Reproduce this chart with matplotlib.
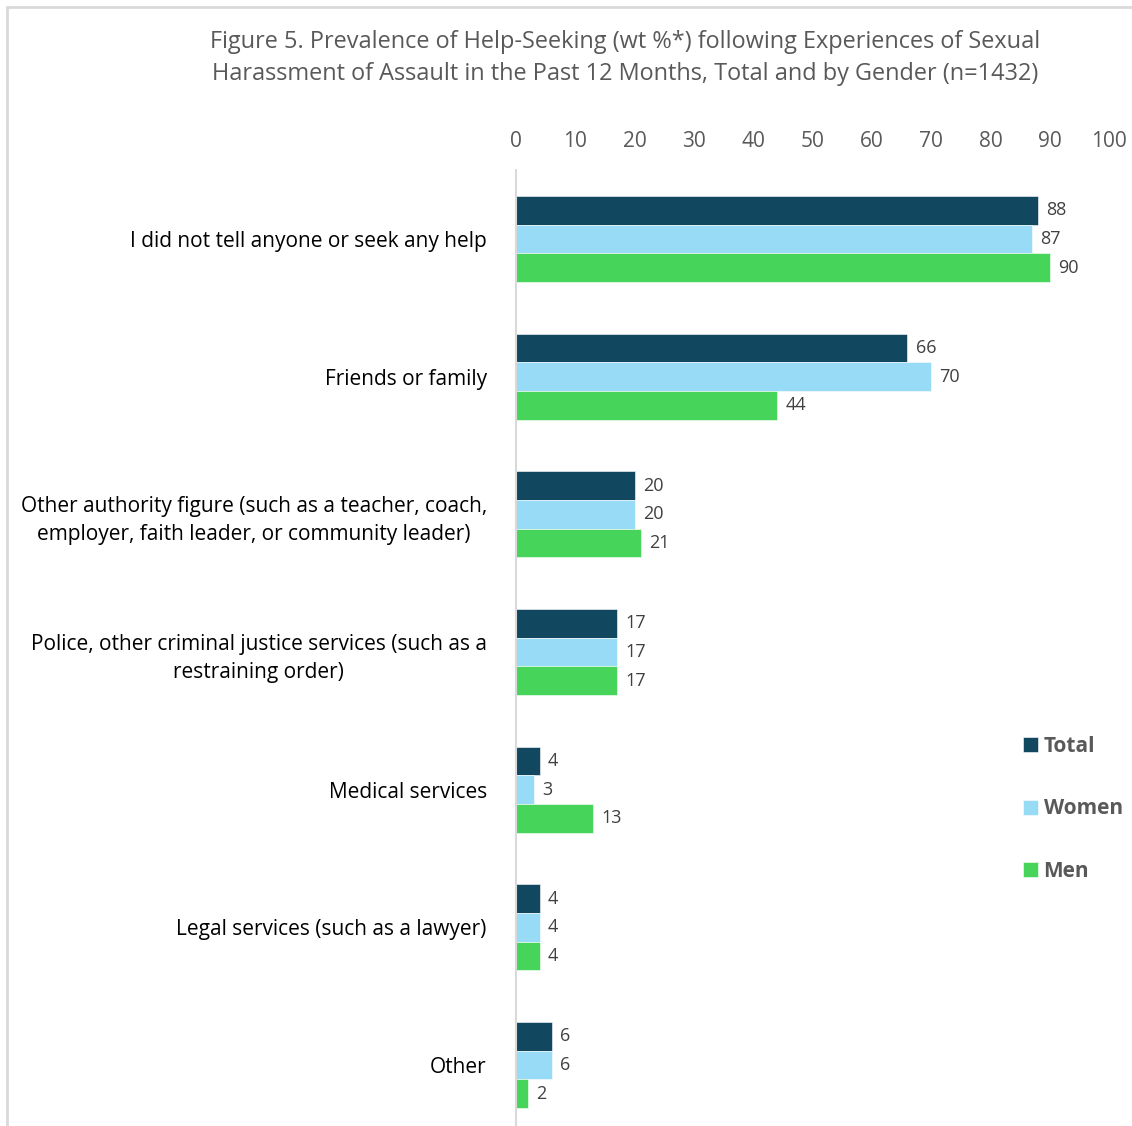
import matplotlib.pyplot as plt
import matplotlib.patches as mpatches
import numpy as np

categories = [
    'I did not tell anyone or seek any help',
    'Friends or family',
    'Other authority figure (such as a teacher, coach,\nemployer, faith leader, or community leader)',
    'Police, other criminal justice services (such as a\nrestraining order)',
    'Medical services',
    'Legal services (such as a lawyer)',
    'Other',
]
total = [88, 66, 20, 17, 4, 4, 6]
women = [87, 70, 20, 17, 3, 4, 6]
men = [90, 44, 21, 17, 13, 4, 2]

series_names = ['Total', 'Women', 'Men']
series_colors = ['#11475F', '#97DBF7', '#47D45B']

plt.rcParams['font.family'] = ['Open Sans', 'DejaVu Sans']

fig = plt.figure(figsize=(11.32, 11.26), dpi=100)
W, H = 1132, 1126

# light frame around the chart area
fig.patches.append(mpatches.Rectangle((7 / W, -0.01), 1.05, 1 - 7 / H + 0.01,
                                      transform=fig.transFigure, fill=False,
                                      edgecolor='#D9D9D9', linewidth=2))

ax = fig.add_axes([516 / W, 1 - 1134 / H, (1109 - 516) / W, (1134 - 170) / H])

y = np.arange(len(categories))
h = 0.208
for k, (vals, name, col) in enumerate(zip([total, women, men], series_names, series_colors)):
    pos = y + (k - 1) * h
    ax.barh(pos, vals, height=h, color=col, label=name, edgecolor='white', linewidth=0.4)
    for p, v in zip(pos, vals):
        ax.text(v + 1.4, p, str(v), va='center', ha='left', fontsize=13, color='#404040')

ax.set_xlim(0, 100)
ax.set_ylim(len(categories) - 0.5, -0.5)
ax.set_xticks(range(0, 101, 10))
ax.xaxis.tick_top()
ax.tick_params(axis='x', length=0, pad=13, labelsize=15, labelcolor='#595959')
ax.set_yticks(y)
ax.set_yticklabels(categories, fontsize=15, color='black', multialignment='center')
for lbl in ax.get_yticklabels():
    lbl.set_linespacing(1.45)
ax.tick_params(axis='y', length=0, pad=21)
for s in ['top', 'right', 'bottom']:
    ax.spines[s].set_visible(False)
ax.spines['left'].set_color('#D9D9D9')
ax.spines['left'].set_linewidth(1.5)

fig.text(625 / W, 1 - 58 / H,
         'Figure 5. Prevalence of Help-Seeking (wt %*) following Experiences of Sexual\n'
         'Harassment of Assault in the Past 12 Months, Total and by Gender (n=1432)',
         ha='center', va='center', fontsize=16.9, color='#595959', linespacing=1.5)

leg = fig.legend(loc='upper left', bbox_to_anchor=(1004 / W, 1 - 717 / H), frameon=False,
                 handlelength=0.75, handleheight=0.75, handletextpad=0.25, labelspacing=2.0,
                 prop={'size': 15, 'weight': 'bold'})
for t in leg.get_texts():
    t.set_color('#595959')

fig.savefig('out.png', dpi=100)
